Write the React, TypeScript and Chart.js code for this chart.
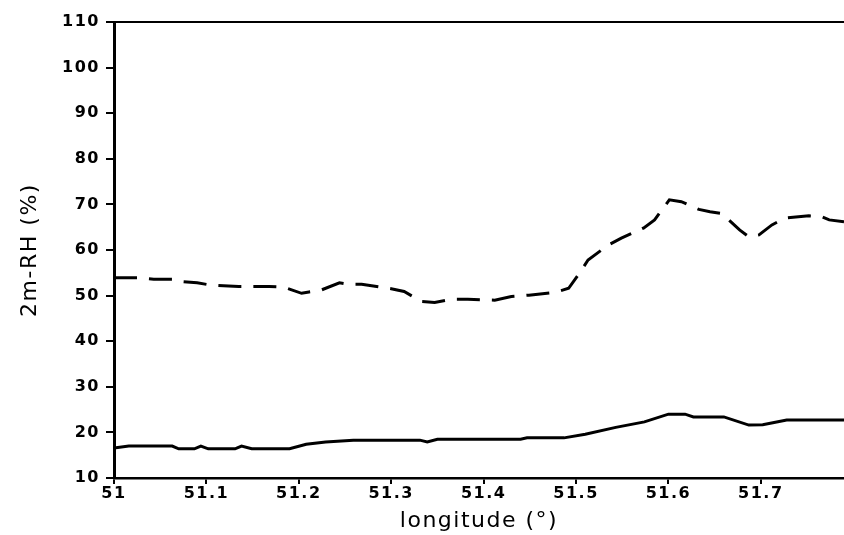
import React, { useEffect, useRef } from "react";
import { Chart, registerables } from "chart.js";

Chart.register(...registerables);

const solidX = [51.0, 51.016, 51.063, 51.07, 51.087, 51.094, 51.102, 51.131, 51.138, 51.149, 51.19, 51.208, 51.229, 51.259, 51.331, 51.339, 51.35, 51.44, 51.447, 51.487, 51.51, 51.543, 51.574, 51.6, 51.618, 51.627, 51.66, 51.687, 51.702, 51.713, 51.728, 51.79];
const solidY = [16.6, 17.0, 17.0, 16.4, 16.4, 17.0, 16.4, 16.4, 17.0, 16.4, 16.4, 17.4, 17.9, 18.3, 18.3, 17.9, 18.5, 18.5, 18.8, 18.8, 19.6, 21.1, 22.3, 24.0, 24.0, 23.4, 23.4, 21.6, 21.7, 22.1, 22.7, 22.7];

const dashX = [51.0, 51.026, 51.043, 51.064, 51.073, 51.09, 51.105, 51.113, 51.135, 51.168, 51.183, 51.203, 51.211, 51.224, 51.244, 51.253, 51.268, 51.3, 51.314, 51.333, 51.347, 51.365, 51.383, 51.412, 51.43, 51.449, 51.477, 51.492, 51.506, 51.513, 51.535, 51.549, 51.573, 51.585, 51.601, 51.614, 51.633, 51.645, 51.658, 51.677, 51.687, 51.698, 51.712, 51.726, 51.752, 51.766, 51.774, 51.79];
const dashY = [53.9, 53.9, 53.6, 53.6, 53.1, 52.8, 52.3, 52.2, 52.0, 52.0, 51.9, 50.5, 50.8, 51.2, 52.8, 52.5, 52.5, 51.5, 50.9, 48.7, 48.5, 49.2, 49.2, 49.0, 49.8, 50.1, 50.7, 51.6, 55.6, 57.8, 61.1, 62.6, 64.8, 66.6, 71.0, 70.6, 68.9, 68.4, 68.0, 64.4, 62.9, 63.3, 65.5, 67.0, 67.5, 67.3, 66.6, 66.2];

const xTicks = [51, 51.1, 51.2, 51.3, 51.4, 51.5, 51.6, 51.7];
const yTicks = [10, 20, 30, 40, 50, 60, 70, 80, 90, 100, 110];
const xMin = 51;
const xMax = 51.79;
const yMin = 10;
const yMax = 110;
const xTitle = "longitude (°)";
const yTitle = "2m-RH (%)";

export default function App() {
  const ref = useRef<HTMLCanvasElement | null>(null);

  useEffect(() => {
    if (!ref.current) return;
    const spacing = {
      id: "spacing",
      beforeLayout(chart: any) {
        chart.ctx.letterSpacing = "1.5px";
      },
      beforeDraw(chart: any) {
        chart.ctx.letterSpacing = "1.5px";
      },
    };
    const chart = new Chart(ref.current, {
      type: "line",
      data: {
        datasets: [
          {
            data: solidX.map((x, i) => ({ x, y: solidY[i] })),
            borderColor: "#000",
            borderWidth: 3,
            pointRadius: 0,
            tension: 0,
          },
          {
            data: dashX.map((x, i) => ({ x, y: dashY[i] })),
            borderColor: "#000",
            borderWidth: 3,
            borderDash: [23, 12],
            pointRadius: 0,
            tension: 0,
          },
        ],
      },
      options: {
        animation: false,
        responsive: false,
        maintainAspectRatio: false,
        layout: { padding: 0 },
        plugins: { legend: { display: false }, tooltip: { enabled: false } },
        scales: {
          x: {
            type: "linear",
            position: "bottom",
            min: xMin,
            max: xMax,
            afterBuildTicks: (s: any) => {
              s.ticks = xTicks.map((v) => ({ value: v }));
            },
            afterFit: (s: any) => {
              s.height = 57;
            },
            ticks: {
              color: "#000",
              font: { family: "DejaVu Sans", size: 16, weight: "bold" },
              padding: 0,
              maxRotation: 0,
              autoSkip: false,
              callback: (v: any) => String(Math.round(v * 10) / 10),
            },
            grid: { display: true, drawOnChartArea: false, drawTicks: true, tickLength: 6, color: "#000", lineWidth: 2 },
            border: { display: true, color: "#000", width: 2.5 },
            title: {
              display: true,
              text: xTitle,
              color: "#000",
              font: { family: "DejaVu Sans", size: 22 },
              padding: { top: 0, bottom: 1 },
            },
          },
          x2: {
            type: "linear",
            position: "top",
            min: xMin,
            max: xMax,
            afterFit: (s: any) => {
              s.height = 22;
            },
            ticks: { display: false },
            grid: { display: false, drawTicks: false },
            border: { display: true, color: "#000", width: 2 },
          },
          y: {
            type: "linear",
            min: yMin,
            max: yMax,
            afterBuildTicks: (s: any) => {
              s.ticks = yTicks.map((v) => ({ value: v }));
            },
            afterFit: (s: any) => {
              s.width = 114;
            },
            ticks: {
              color: "#000",
              font: { family: "DejaVu Sans", size: 16, weight: "bold" },
              padding: 6,
            },
            grid: { display: true, drawOnChartArea: false, drawTicks: true, tickLength: 8, color: "#000", lineWidth: 2 },
            border: { display: true, color: "#000", width: 3 },
            title: {
              display: true,
              text: yTitle,
              color: "#000",
              font: { family: "DejaVu Sans", size: 22 },
              padding: { top: 17, bottom: 0 },
            },
          },
        },
      },
      plugins: [spacing],
    } as any);
    return () => chart.destroy();
  }, []);

  return (
    <div style={{ position: "fixed", left: 0, top: 0, width: 844, height: 535, background: "#fff" }}>
      <canvas ref={ref} width={844} height={535} style={{ display: "block", width: 844, height: 535 }} />
    </div>
  );
}
